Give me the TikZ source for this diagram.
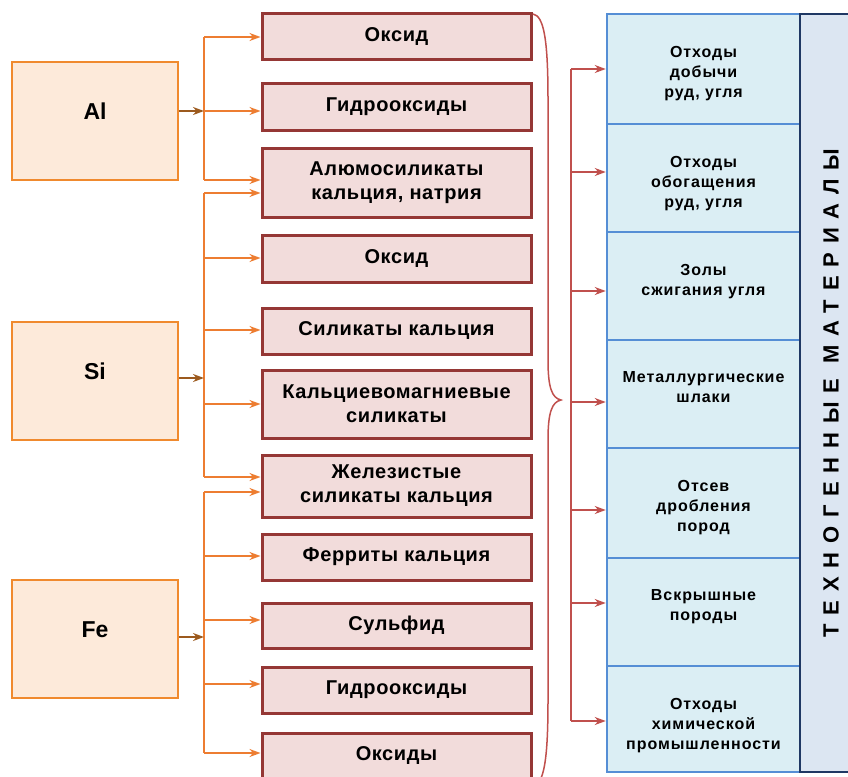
\documentclass[tikz,border=0pt]{standalone}
\usepackage{fontspec}
\setmainfont{Liberation Sans}
\newfontfamily\compfamily{Liberation Sans}[LetterSpace=3]
\newfontfamily\srcfamily{Liberation Sans}[LetterSpace=6]
\newfontfamily\titlefamily{Liberation Sans}[LetterSpace=40]
\usetikzlibrary{arrows.meta}

\definecolor{elemfill}{HTML}{FDEADA}
\definecolor{elemline}{HTML}{F08A2E}
\definecolor{feedline}{HTML}{ED7D31}
\definecolor{feedtip}{HTML}{9C5A1E}
\definecolor{compfill}{HTML}{F2DCDB}
\definecolor{compline}{HTML}{953735}
\definecolor{bracered}{HTML}{C0504D}
\definecolor{srcfill}{HTML}{DBEEF4}
\definecolor{srcline}{HTML}{558ED5}
\definecolor{titlefill}{HTML}{DCE6F2}
\definecolor{titleline}{HTML}{1F3864}

\begin{document}
\begin{tikzpicture}[x=1pt,y=-1pt,
  elem/.style={draw=elemline, fill=elemfill, line width=2pt,
    minimum width=166pt, minimum height=118pt, inner sep=0pt,
    font=\bfseries\fontsize{23}{26}\selectfont,
    text height=17pt, text depth=20pt},
  comp/.style={draw=compline, fill=compfill, line width=3pt,
    minimum width=269pt, inner sep=2pt, align=center,
    font=\compfamily\bfseries\fontsize{20}{24}\selectfont},
  src/.style={draw=srcline, fill=srcfill, line width=2.5pt,
    minimum width=193pt, inner sep=0pt},
  srctext/.style={anchor=north, inner sep=0pt, align=center, yshift=-33pt,
    font=\srcfamily\bfseries\fontsize{16}{20}\selectfont},
  titlebox/.style={draw=titleline, fill=titlefill, line width=2.5pt,
    inner sep=0pt, font=\titlefamily\bfseries\fontsize{22}{24}\selectfont},
  tip/.style={-{Stealth[length=11pt,width=8pt,inset=3.5pt]}},
  bus/.style={draw=feedline, line width=1.5pt},
  feed/.style={draw=feedtip, line width=1.5pt, tip},
  branch/.style={draw=feedline, line width=1.5pt, tip},
  sbus/.style={draw=bracered, line width=1.5pt},
  sbranch/.style={draw=bracered, line width=1.5pt, tip},
  brace/.style={draw=bracered, line width=1.5pt}
]
\useasboundingbox (0,0) rectangle (848,776);
\clip (0,0) rectangle (848,776);

% chemical elements
\node[elem] (al) at (95,121) {Al};
\node[elem] (si) at (95,381) {Si};
\node[elem] (fe) at (95,639) {Fe};

% compounds
\node[comp, minimum height=46pt] (m1)  at (396.5,37)    {Оксид};
\node[comp, minimum height=47pt] (m2)  at (396.5,106.5) {Гидрооксиды};
\node[comp, minimum height=69pt] (m3)  at (396.5,182.5) {Алюмосиликаты\\кальция, натрия};
\node[comp, minimum height=47pt] (m4)  at (396.5,258.5) {Оксид};
\node[comp, minimum height=46pt] (m5)  at (396.5,331)   {Силикаты кальция};
\node[comp, minimum height=68pt] (m6)  at (396.5,404)   {Кальциевомагниевые\\силикаты};
\node[comp, minimum height=62pt] (m7)  at (396.5,486)   {Железистые\\силикаты кальция};
\node[comp, minimum height=46pt] (m8)  at (396.5,557)   {Ферриты кальция};
\node[comp, minimum height=45pt] (m9)  at (396.5,625.5) {Сульфид};
\node[comp, minimum height=46pt] (m10) at (396.5,690)   {Гидрооксиды};
\node[comp, minimum height=45pt] (m11) at (396.5,755.5) {Оксиды};

% sources of technogenic materials
\node[src, minimum height=110pt] (s1) at (703.5,69)  {};
\node[src, minimum height=108pt] (s2) at (703.5,178) {};
\node[src, minimum height=108pt] (s3) at (703.5,286) {};
\node[src, minimum height=108pt] (s4) at (703.5,394) {};
\node[src, minimum height=110pt] (s5) at (703.5,503) {};
\node[src, minimum height=108pt] (s6) at (703.5,612) {};
\node[src, minimum height=106pt] (s7) at (703.5,719) {};

% their captions, hung from the top edge of each cell
\node[srctext] (s1t) at (s1.north) {Отходы\\добычи\\руд, угля};
\node[srctext] (s2t) at (s2.north) {Отходы\\обогащения\\руд, угля};
\node[srctext] (s3t) at (s3.north) {Золы\\сжигания угля};
\node[srctext] (s4t) at (s4.north) {Металлургические\\шлаки};
\node[srctext] (s5t) at (s5.north) {Отсев\\дробления\\пород};
\node[srctext] (s6t) at (s6.north) {Вскрышные\\породы};
\node[srctext] (s7t) at (s7.north) {Отходы\\химической\\промышленности};

% side title
\node[titlebox, rotate=90, minimum width=758pt, minimum height=62pt] (tm)
  at (831,393) {ТЕХНОГЕННЫЕ МАТЕРИАЛЫ};

% junctions on the orange buses
\coordinate (alA) at (204,37);
\coordinate (alB) at (204,111);
\coordinate (alC) at (204,180);
\coordinate (siA) at (204,193);
\coordinate (siB) at (204,258);
\coordinate (siC) at (204,330);
\coordinate (siD) at (204,404);
\coordinate (siE) at (204,477);
\coordinate (siF) at (204,378);
\coordinate (feA) at (204,492);
\coordinate (feB) at (204,556);
\coordinate (feC) at (204,620);
\coordinate (feD) at (204,684);
\coordinate (feE) at (204,753);
\coordinate (feF) at (204,637);

% Al
\draw[bus] (alA) -- (alC);
\draw[feed] (al.east |- alB) -- (alB);
\draw[branch] (alA) -- (alA -| m1.west);
\draw[branch] (alB) -- (alB -| m2.west);
\draw[branch] (alC) -- (alC -| m3.west);

% Si
\draw[bus] (siA) -- (siE);
\draw[feed] (si.east |- siF) -- (siF);
\draw[branch] (siA) -- (siA -| m3.west);
\draw[branch] (siB) -- (siB -| m4.west);
\draw[branch] (siC) -- (siC -| m5.west);
\draw[branch] (siD) -- (siD -| m6.west);
\draw[branch] (siE) -- (siE -| m7.west);

% Fe
\draw[bus] (feA) -- (feE);
\draw[feed] (fe.east |- feF) -- (feF);
\draw[branch] (feA) -- (feA -| m7.west);
\draw[branch] (feB) -- (feB -| m8.west);
\draw[branch] (feC) -- (feC -| m9.west);
\draw[branch] (feD) -- (feD -| m10.west);
\draw[branch] (feE) -- (feE -| m11.west);

% brace gathering all compounds
\draw[brace] (533,14) .. controls (544,16) and (548,40) .. (548,100)
  -- (548,360) .. controls (548,388) and (552,398) .. (561,400)
  .. controls (552,402) and (548,412) .. (548,440)
  -- (548,700) .. controls (548,760) and (544,784) .. (533,786);

% red distribution bus
\coordinate (r1) at (571,69);
\coordinate (r2) at (571,172);
\coordinate (r3) at (571,291);
\coordinate (r4) at (571,402);
\coordinate (r5) at (571,510);
\coordinate (r6) at (571,603);
\coordinate (r7) at (571,721);
\draw[sbus] (r1) -- (r7);
\draw[sbranch] (r1) -- (r1 -| s1.west);
\draw[sbranch] (r2) -- (r2 -| s2.west);
\draw[sbranch] (r3) -- (r3 -| s3.west);
\draw[sbranch] (r4) -- (r4 -| s4.west);
\draw[sbranch] (r5) -- (r5 -| s5.west);
\draw[sbranch] (r6) -- (r6 -| s6.west);
\draw[sbranch] (r7) -- (r7 -| s7.west);
\end{tikzpicture}
\end{document}
